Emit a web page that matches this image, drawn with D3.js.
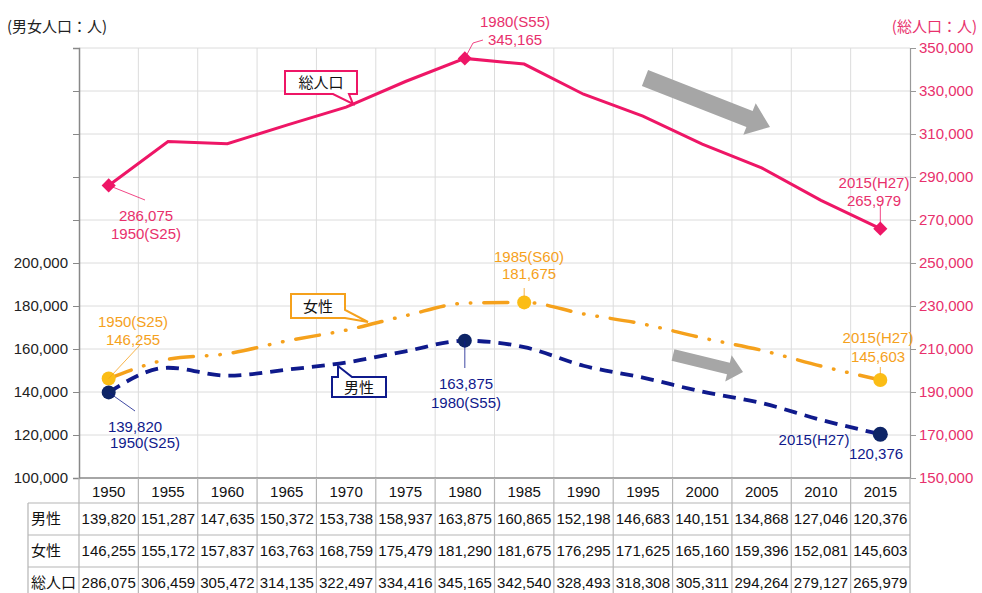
<!DOCTYPE html>
<html>
<head>
<meta charset="utf-8" />
<title>人口推移</title>
<script src="https://d3js.org/d3.v7.min.js"></script>
<style>
  body { margin: 0; background: #fff; }
  svg text { font-family: "Liberation Sans", Arial, "Noto Sans CJK JP", sans-serif; }
  .jp { font-family: "Noto Sans CJK JP", sans-serif; }
</style>
</head>
<body>
<svg id="viz" width="982" height="593"></svg>
<script>
// data
var years = ["1950","1955","1960","1965","1970","1975","1980","1985","1990","1995","2000","2005","2010","2015"];
var male = [139820,151287,147635,150372,153738,158937,163875,160865,152198,146683,140151,134868,127046,120376];
var female = [146255,155172,157837,163763,168759,175479,181290,181675,176295,171625,165160,159396,152081,145603];
var total = [286075,306459,305472,314135,322497,334416,345165,342540,328493,318308,305311,294264,279127,265979];
var leftTicks = [100000,120000,140000,160000,180000,200000,220000,240000,260000,280000,300000];
var rightTicks = [150000,170000,190000,210000,230000,250000,270000,290000,310000,330000,350000];
var rowNames = ["男性","女性","総人口"];

var pink = "#ee1666", pinkText = "#e8306c", orange = "#f5a11c", navy = "#0f1a8c", navyDot = "#0d2466";

var plotL = 79, plotR = 910, plotT = 48, plotB = 478;
var fs = 15;
var svg = d3.select("#viz");

var x = d3.scaleBand().domain(years).range([plotL, plotR]);
var xc = function(i) { return x(years[i]) + x.bandwidth() / 2; };
var yL = d3.scaleLinear().domain([100000, 300000]).range([plotB, plotT]);
var yR = d3.scaleLinear().domain([150000, 350000]).range([plotB, plotT]);
var fmt = d3.format(",");

// grid
var grid = svg.append("g");
grid.selectAll("line.h").data(rightTicks.slice(1)).enter().append("line")
  .attr("x1", plotL).attr("x2", plotR)
  .attr("y1", function(d) { return yR(d); }).attr("y2", function(d) { return yR(d); })
  .attr("stroke", "#dcdcdc").attr("stroke-width", 1);
grid.selectAll("line.v").data(years.slice(1)).enter().append("line")
  .attr("x1", function(d) { return x(d); }).attr("x2", function(d) { return x(d); })
  .attr("y1", plotT).attr("y2", plotB)
  .attr("stroke", "#dcdcdc").attr("stroke-width", 1);

// left axis
var axL = svg.append("g").attr("transform", "translate(" + plotL + ",0)")
  .call(d3.axisLeft(yL).tickValues(leftTicks).tickSize(6)
    .tickFormat(function(d) { return d <= 200000 ? fmt(d) : ""; }));
axL.select(".domain").attr("stroke", "#888").attr("stroke-width", 1.5);
axL.selectAll(".tick line").attr("stroke", "#888");
axL.selectAll("text").attr("font-size", fs).attr("fill", "#222").attr("x", -11);

// right axis
var axR = svg.append("g").attr("transform", "translate(" + plotR + ",0)")
  .call(d3.axisRight(yR).tickValues(rightTicks).tickSize(6).tickFormat(fmt));
axR.select(".domain").attr("stroke", "#999").attr("stroke-width", 1.2);
axR.selectAll(".tick line").attr("stroke", "#999");
axR.selectAll("text").attr("font-size", fs).attr("fill", pinkText).attr("x", 9);

// bottom axis line
svg.append("line").attr("x1", plotL).attr("x2", plotR).attr("y1", plotB).attr("y2", plotB)
  .attr("stroke", "#888").attr("stroke-width", 1.5);

// units
svg.append("text").attr("class", "jp").attr("x", 7).attr("y", 32).attr("font-size", fs)
  .attr("fill", "#222").text("(男女人口：人)");
svg.append("text").attr("class", "jp").attr("x", 977).attr("y", 32).attr("font-size", fs)
  .attr("text-anchor", "end").attr("fill", pinkText).text("(総人口：人)");

// table
var rowTop = [503, 535, 567], rowH = 32;
var tbl = svg.append("g");
tbl.selectAll("text.yr").data(years).enter().append("text")
  .attr("x", function(d, i) { return xc(i); }).attr("y", 497)
  .attr("text-anchor", "middle").attr("font-size", fs).attr("fill", "#111").text(function(d) { return d; });
rowTop.forEach(function(t) {
  tbl.append("line").attr("x1", 28).attr("x2", plotR).attr("y1", t).attr("y2", t)
    .attr("stroke", "#b5b5b5").attr("stroke-width", 1.2);
});
tbl.append("line").attr("x1", 28).attr("x2", 28).attr("y1", rowTop[0]).attr("y2", 600).attr("stroke", "#b5b5b5").attr("stroke-width", 1.2);
years.concat(["end"]).forEach(function(d, i) {
  var xx = i < years.length ? x(d) : plotR;
  tbl.append("line").attr("x1", xx).attr("x2", xx).attr("y1", plotB).attr("y2", 600)
    .attr("stroke", "#b5b5b5").attr("stroke-width", 1.2);
});
[male, female, total].forEach(function(arr, r) {
  tbl.append("text").attr("class", "jp").attr("x", 31).attr("y", rowTop[r] + rowH / 2 + 5)
    .attr("font-size", fs).attr("fill", "#111").text(rowNames[r]);
  tbl.selectAll(null).data(arr).enter().append("text")
    .attr("x", function(d, i) { return xc(i); }).attr("y", rowTop[r] + rowH / 2 + 5)
    .attr("text-anchor", "middle").attr("font-size", fs).attr("fill", "#111")
    .text(function(d) { return fmt(d); });
});

// arrows
function blockArrow(x0, y0, x1, y1, sw, hw, hl) {
  var dx = x1 - x0, dy = y1 - y0, L = Math.sqrt(dx * dx + dy * dy);
  var ux = dx / L, uy = dy / L, nx = -uy, ny = ux;
  var bx = x1 - ux * hl, by = y1 - uy * hl;
  var pts = [[x0 + nx * sw / 2, y0 + ny * sw / 2], [bx + nx * sw / 2, by + ny * sw / 2],
    [bx + nx * hw / 2, by + ny * hw / 2], [x1, y1], [bx - nx * hw / 2, by - ny * hw / 2],
    [bx - nx * sw / 2, by - ny * sw / 2], [x0 - nx * sw / 2, y0 - ny * sw / 2]];
  svg.append("polygon").attr("points", pts.map(function(p) { return p.join(","); }).join(" "))
    .attr("fill", "#a6a6a6");
}
blockArrow(645, 78, 770, 127, 17, 34, 22);
blockArrow(673, 355, 743, 372, 12, 27, 15);

// lines
var lineL = function(arr) {
  return d3.line().x(function(d, i) { return xc(i); }).y(function(d) { return yL(d); }).curve(d3.curveMonotoneX)(arr);
};
svg.append("path").attr("d", lineL(female)).attr("fill", "none").attr("stroke", orange)
  .attr("stroke-width", 3.5).attr("stroke-linecap", "round").attr("stroke-dasharray", "24,13,0.5,13,0.5,13");
svg.append("path").attr("d", lineL(male)).attr("fill", "none").attr("stroke", navy)
  .attr("stroke-width", 3.8).attr("stroke-dasharray", "13,8");
svg.append("path").attr("d", d3.line().x(function(d, i) { return xc(i); }).y(function(d) { return yR(d); })(total))
  .attr("fill", "none").attr("stroke", pink).attr("stroke-width", 3);

// callouts
function callout(d, color, label, tx, ty) {
  svg.append("path").attr("d", d).attr("fill", "#fff").attr("stroke", color).attr("stroke-width", 2);
  svg.append("text").attr("class", "jp").attr("x", tx).attr("y", ty).attr("font-size", fs)
    .attr("text-anchor", "middle").attr("fill", "#111").text(label);
}
callout("M285,71 H357 V94 H349 L353,104 L333,94 H285 Z", pink, "総人口", 321, 88);
callout("M291,294 H345 V310 L368,322 L345,318 H291 Z", orange, "女性", 318, 312);
callout("M332,377 H338 L338,366 L352,377 H386 V397 H332 Z", navy, "男性", 359, 393);

// markers and labels
function leader(x1, y1, x2, y2, color) {
  svg.append("line").attr("x1", x1).attr("y1", y1).attr("x2", x2).attr("y2", y2)
    .attr("stroke", color).attr("stroke-width", 0.8);
}
function label(tx, ty, lines, color, gap) {
  lines.forEach(function(s, k) {
    svg.append("text").attr("x", tx).attr("y", ty + k * (gap || 18)).attr("font-size", fs)
      .attr("text-anchor", "middle").attr("fill", color).text(s);
  });
}
// total
[0, 6, 13].forEach(function(i) {
  var cx = xc(i), cy = yR(total[i]);
  svg.append("rect").attr("x", cx - 5).attr("y", cy - 5).attr("width", 10).attr("height", 10)
    .attr("fill", pink).attr("transform", "rotate(45," + cx + "," + cy + ")");
});
leader(xc(0), yR(total[0]), 145, 200, pink);
label(146, 221, [fmt(total[0]), "1950(S25)"], pinkText);
leader(xc(6), yR(total[6]), 473, 43, pink);
leader(473, 43, 483, 40, pink);
label(515, 27, ["1980(S55)", fmt(total[6])], pinkText);
leader(xc(13), yR(total[13]) - 6, xc(13), 206, pink);
label(874, 188, ["2015(H27)", fmt(total[13])], pinkText);

// female
[0, 7, 13].forEach(function(i) {
  svg.append("circle").attr("cx", xc(i)).attr("cy", yL(female[i])).attr("r", 7).attr("fill", "#fbbd16");
});
leader(xc(0), yL(female[0]), 140, 345, orange);
label(133, 327, ["1950(S25)", fmt(female[0])], orange);
leader(xc(7), yL(female[7]) - 6, xc(7), 288, orange);
label(529, 262, ["1985(S60)", fmt(female[7])], orange, 17);
leader(xc(13), yL(female[13]) - 6, xc(13), 367, orange);
label(878, 343, ["2015(H27)", fmt(female[13])], orange, 19);

// male
[0, 6, 13].forEach(function(i) {
  svg.append("circle").attr("cx", xc(i)).attr("cy", yL(male[i])).attr("r", i == 13 ? 7.5 : 7).attr("fill", navyDot);
});
leader(xc(0), yL(male[0]), 135, 411, navy);
label(135, 432, [fmt(male[0])], navy);
label(145, 448, ["1950(S25)"], navy);
leader(xc(6), yL(male[6]), xc(6), 368, navy);
label(466, 389, [fmt(male[6]), "1980(S55)"], navy, 19);
label(814, 445, ["2015(H27)"], navy);
label(876, 459, [fmt(male[13])], navy);
</script>
</body>
</html>
